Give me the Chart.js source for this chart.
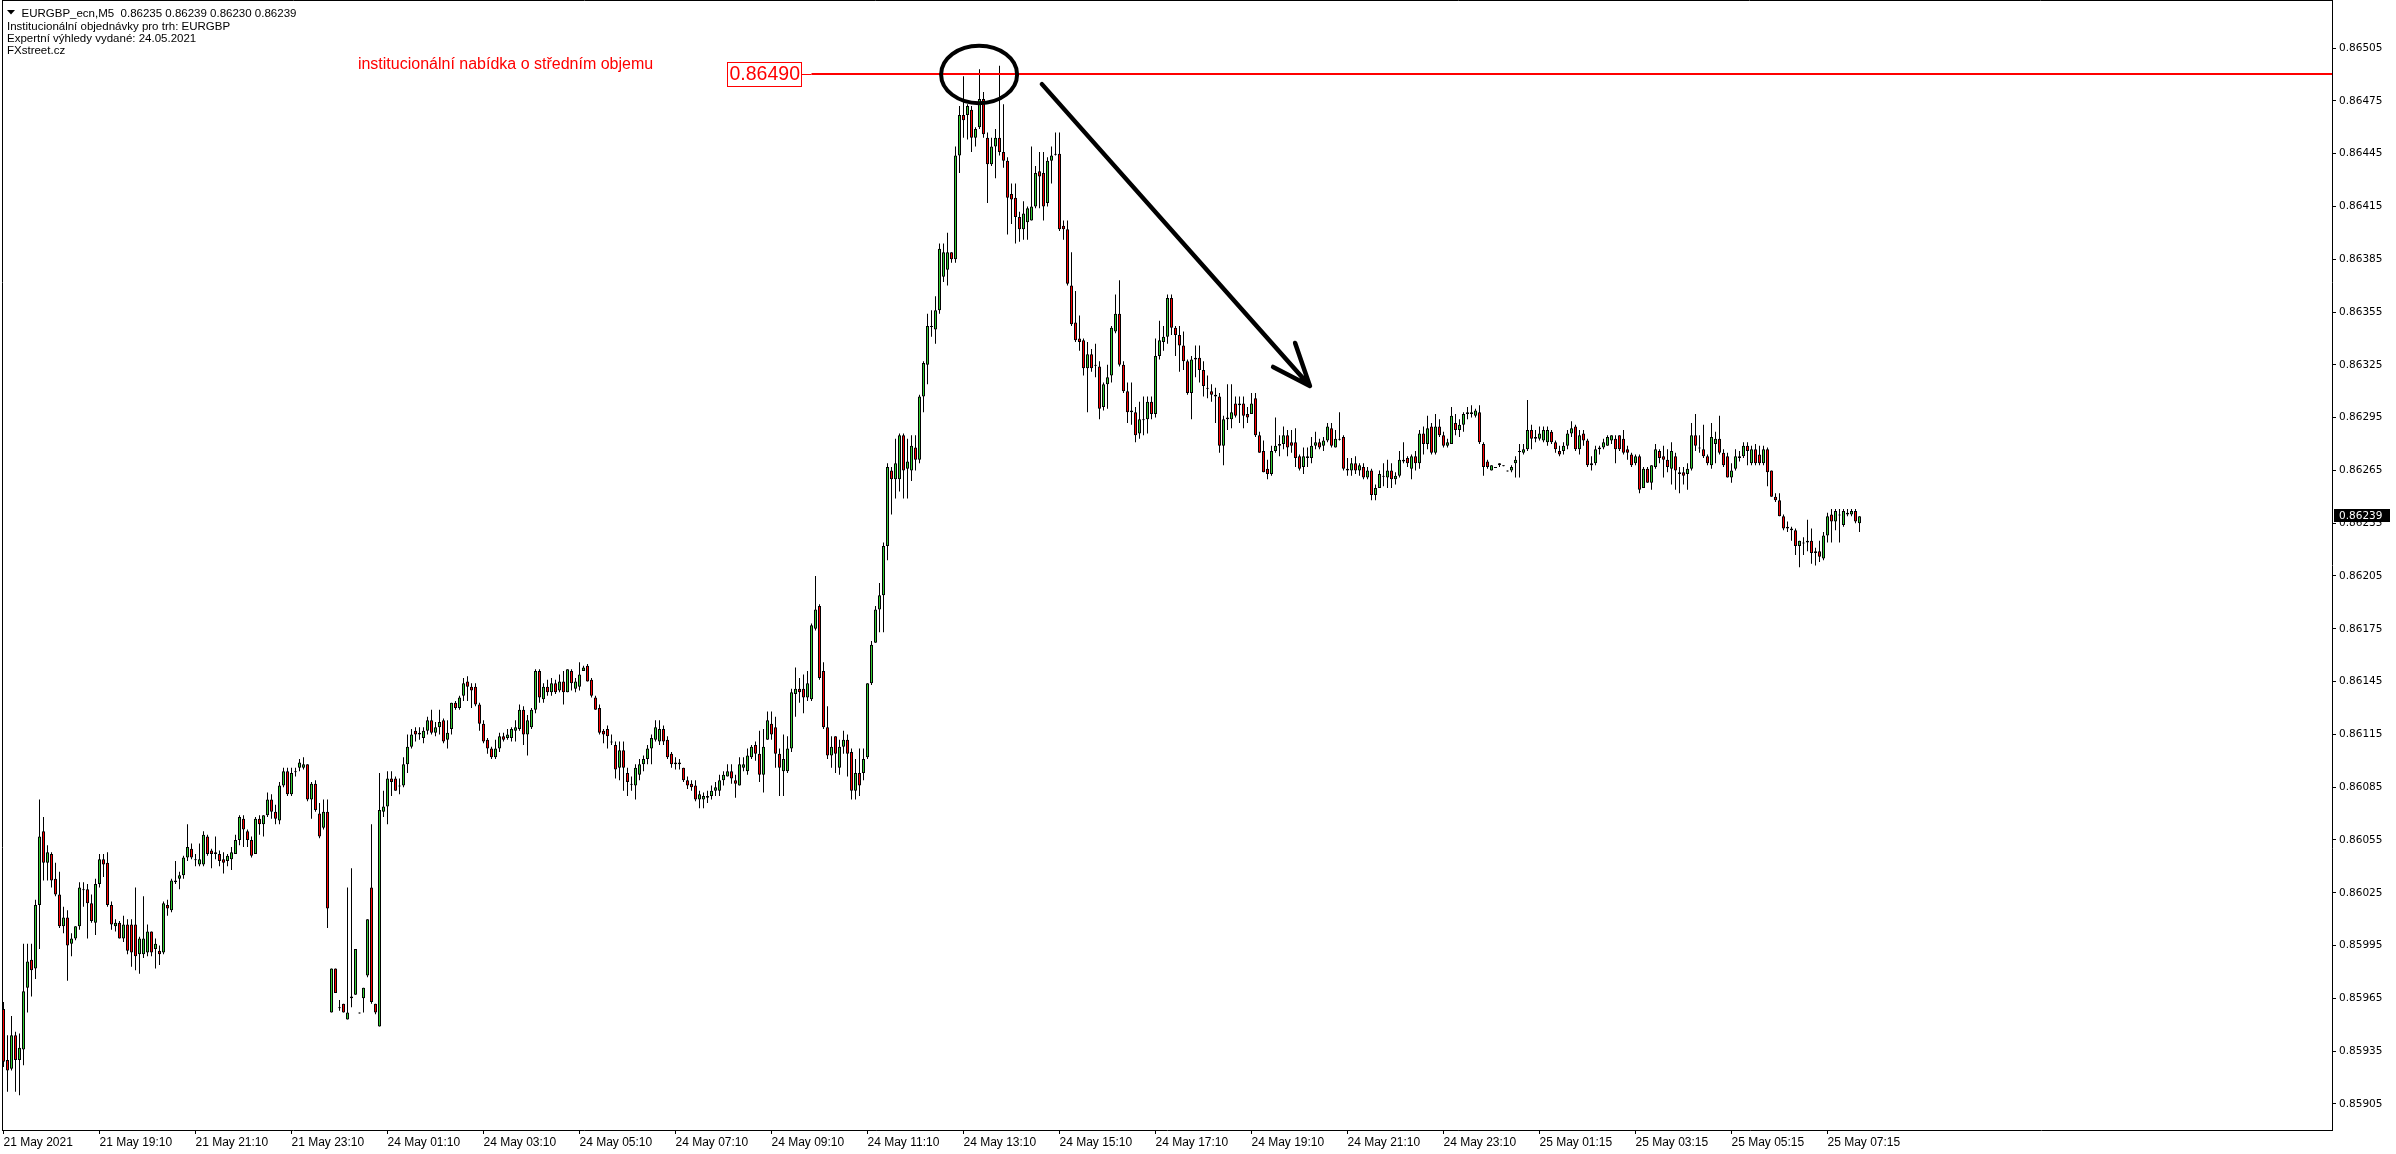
<!DOCTYPE html>
<html>
<head>
<meta charset="utf-8">
<title>EURGBP M5</title>
<script src="https://cdn.jsdelivr.net/npm/chart.js"></script>
<style>
  body { margin: 0; background: #fff; }
  canvas { display: block; }
</style>
</head>
<body>
<canvas id="chart" width="2396" height="1154"></canvas>
<script>
// ceny v bodech (0.00001) nad 0.86000, svíčky M5 od 21.05. 17:10
let base = 86000;

let opens = [
  -41,-70,-75,-56,-70,-64,-29,-13,-18,18,60,42,47,33,24,6,11,-4,-1,6,27,27,19,8,
  30,44,42,18,6,8,-1,7,7,7,-10,-10,-9,3,-7,-8,-9,18,15,31,33,35,45,50,
  44,41,41,57,49,48,47,44,43,44,47,55,67,60,55,47,67,64,69,78,71,66,86,94,
  81,94,96,96,98,78,87,70,62,71,-43,-18,-40,-38,-47,-34,-33,-43,-35,-22,28,-38,-51,71,
  74,90,90,86,86,98,108,117,116,113,117,123,116,119,123,112,118,133,130,137,145,142,142,132,
  121,112,107,102,107,114,113,113,117,118,129,115,119,129,151,135,142,139,144,140,145,139,151,141,
  142,151,154,146,136,130,117,118,111,109,96,106,93,87,86,92,98,101,107,112,111,118,112,104,
  99,99,96,89,87,86,78,78,79,80,83,83,89,91,94,89,86,96,94,102,109,104,92,112,
  121,119,104,94,94,107,138,141,141,136,135,175,188,151,119,103,114,96,108,112,105,83,93,93,
  102,144,167,186,194,222,265,260,260,285,266,265,278,271,307,325,347,345,356,375,379,389,385,444,
  467,467,470,454,460,476,454,439,449,454,446,441,422,420,409,402,406,407,415,435,434,417,441,445,
  445,404,402,370,349,340,339,323,331,325,324,301,314,319,344,354,325,310,299,298,286,294,294,304,
  297,330,338,341,363,346,342,336,327,309,328,329,322,312,310,308,307,279,295,294,303,303,303,297,
  297,306,285,276,266,263,276,279,280,285,281,281,273,267,272,272,279,281,279,282,289,278,283,284,
  266,265,269,265,267,261,265,251,255,262,261,265,260,262,270,272,266,273,269,286,280,290,275,290,
  285,279,280,292,288,291,297,298,296,298,280,270,265,267,269,268,265,265,269,276,275,277,288,283,
  283,282,281,287,281,276,276,279,286,290,277,286,282,268,269,278,278,279,282,283,285,283,277,274,
  269,273,255,266,258,267,276,273,271,266,273,264,264,263,266,285,278,277,273,268,280,283,275,273,
  261,266,272,273,279,269,277,274,269,277,265,250,248,239,232,232,231,222,224,224,225,218,219,215,
  228,240,236,240,234,241,240,242,235
];

let highs = [
  -37,-56,-45,-54,-55,-4,-4,-4,21,78,68,52,48,42,37,17,15,2,6,31,31,30,24,33,
  47,47,48,20,10,9,12,10,10,28,0,23,7,3,-1,-5,20,21,33,43,37,46,64,53,
  47,53,60,58,50,57,49,48,47,51,58,69,69,61,57,68,69,69,82,81,75,88,96,96,
  96,96,101,102,98,88,89,76,78,78,-18,-18,-36,-38,28,39,-7,-43,-29,10,64,-38,93,83,
  94,94,91,90,102,115,118,119,119,119,125,129,122,129,124,123,133,134,137,147,148,144,144,133,
  123,113,108,112,116,116,118,119,123,132,131,126,130,152,152,144,146,147,146,149,151,152,152,147,
  156,154,155,147,137,132,118,120,115,111,111,111,96,91,98,101,103,109,115,123,123,120,114,105,
  102,101,96,91,89,89,83,82,83,86,88,92,94,98,98,92,102,102,107,109,111,117,118,128,
  128,125,107,115,114,141,153,147,149,151,178,205,189,156,131,114,114,112,117,115,107,101,107,107,
  144,168,188,201,224,269,267,283,286,286,283,285,285,308,327,354,356,364,394,394,400,389,449,472,
  489,473,472,460,493,480,457,454,459,495,473,443,428,428,412,418,415,449,438,446,446,443,449,457,
  457,407,407,389,367,353,340,338,334,337,327,315,325,347,365,373,327,315,315,301,304,307,307,307,
  340,350,347,365,365,347,347,344,328,330,336,336,327,319,314,312,309,296,314,314,307,307,307,301,
  309,309,287,282,271,279,295,285,290,288,288,289,274,278,278,284,287,283,284,292,292,288,298,285,
  272,272,273,269,269,267,266,257,265,269,271,269,264,276,281,273,274,276,288,290,296,292,297,294,
  287,283,301,297,294,298,301,302,300,302,281,271,268,267,269,268,265,268,273,280,280,305,291,288,
  290,290,290,288,282,279,281,288,293,291,288,288,283,273,279,279,283,285,285,285,285,288,279,275,
  274,274,267,267,268,280,277,279,277,281,275,267,267,269,292,297,285,291,274,292,287,296,277,275,
  269,277,276,281,281,279,280,279,279,278,265,252,252,240,236,233,232,225,227,237,232,221,225,230,
  241,243,243,243,243,243,243,243,239
];

let lows = [
  -74,-88,-76,-88,-90,-73,-43,-34,-24,-7,32,32,28,23,5,2,-25,-11,-2,4,17,-1,8,1,
  28,34,17,4,3,-1,-3,-10,-17,-19,-21,-12,-11,-11,-18,-16,-10,12,14,30,27,33,43,44,
  40,40,40,46,39,44,40,36,40,38,47,52,51,51,45,47,58,57,68,67,64,64,85,80,
  80,91,94,95,77,67,71,56,61,5,-43,-32,-42,-43,-47,-40,-33,-43,-43,-23,-38,-44,-51,68,
  64,80,83,81,85,93,107,111,112,110,115,115,114,115,110,107,115,129,129,134,134,130,131,117,
  110,104,101,101,105,111,112,111,111,117,109,103,118,127,133,133,137,137,138,139,132,139,140,139,
  140,151,145,136,129,115,110,107,109,90,89,83,80,83,78,89,94,98,98,111,109,109,101,96,
  95,95,88,84,83,77,73,73,76,78,80,80,86,91,87,79,86,94,92,101,100,88,82,112,
  112,96,80,80,93,105,125,133,127,134,134,174,146,118,101,96,93,92,104,91,78,78,80,89,
  101,143,167,173,173,214,240,249,253,249,249,259,265,269,298,314,341,337,354,372,370,383,383,434,
  454,453,446,449,459,454,417,438,431,444,437,399,405,394,395,396,396,407,414,414,407,415,428,444,
  401,396,370,347,338,333,319,298,321,318,294,299,300,315,343,324,309,292,291,281,283,285,286,294,
  295,328,333,337,342,330,321,322,308,294,318,315,307,306,304,292,275,268,288,289,295,292,289,292,
  297,284,275,264,260,262,275,273,277,273,275,267,265,263,267,269,277,277,276,281,278,278,282,265,
  262,262,263,262,260,260,248,248,255,256,255,255,257,261,269,267,260,265,266,274,277,274,274,284,
  278,278,280,285,284,287,294,295,295,280,262,266,265,267,267,268,265,264,261,261,274,276,277,281,
  282,281,279,280,275,273,274,277,284,276,274,279,267,265,268,274,277,279,280,269,276,274,271,267,
  268,252,255,258,254,266,269,261,264,257,254,252,257,254,265,276,275,272,268,266,269,274,267,261,
  258,265,270,272,268,268,268,268,268,256,250,247,239,231,230,225,217,210,217,219,212,211,213,214,
  224,224,231,224,233,239,239,235,230
];

let closes = [
  -71,-76,-56,-70,-63,-31,-14,-19,18,57,42,48,32,24,6,11,-5,-1,6,28,27,19,9,30,
  44,41,18,7,8,-1,7,-8,-9,-11,-1,-1,3,-9,-4,-10,19,16,32,32,35,45,51,45,
  44,44,58,47,47,47,43,42,46,48,55,68,61,55,46,67,64,69,78,71,67,86,94,81,
  93,94,99,98,78,87,72,57,71,16,-18,-32,-40,-43,-43,-35,-7,-43,-29,10,-37,-43,72,74,
  90,88,83,86,98,108,115,115,115,117,123,116,119,122,111,116,133,130,136,144,142,140,132,121,
  111,107,102,107,114,112,115,118,119,129,115,123,129,151,136,142,139,144,139,145,139,152,144,145,
  149,153,145,137,129,116,115,114,111,95,106,96,88,87,96,98,101,107,113,119,118,111,102,98,
  98,98,89,86,85,78,81,80,80,83,85,89,92,94,90,87,98,98,103,108,104,92,108,123,
  115,104,96,101,107,139,141,139,136,144,177,186,147,119,103,108,104,108,112,104,83,93,86,101,
  144,166,186,194,222,267,260,269,285,265,270,279,271,307,326,347,347,356,391,389,389,385,444,467,
  464,472,454,459,476,456,439,449,454,446,441,420,419,409,402,411,414,415,434,432,415,441,444,445,
  402,402,371,348,339,338,323,331,323,325,300,314,318,346,354,325,310,298,298,285,294,294,304,297,
  330,339,341,363,346,342,336,327,309,328,329,322,313,312,308,307,279,294,294,298,296,302,296,295,
  303,285,275,264,263,276,279,280,285,278,279,272,266,273,273,279,281,278,282,290,279,283,283,266,
  265,269,265,268,261,265,251,255,263,262,265,260,262,271,271,269,273,269,286,280,289,275,290,285,
  279,281,296,288,291,297,298,297,299,281,267,267,268,267,268,268,265,267,271,276,277,288,283,284,
  286,288,288,281,277,274,279,286,289,277,285,282,268,269,277,277,281,284,285,277,277,275,275,268,
  273,254,266,258,268,277,272,271,267,276,265,263,262,266,285,279,278,273,269,284,283,275,268,261,
  265,273,273,279,276,277,269,269,277,264,250,248,239,232,233,231,222,225,224,225,218,219,216,228,
  239,236,242,240,242,240,242,236,239
];

// popisky casove osy (kazde 2 hodiny = 24 svicek)
let xTickIdx = [0,24,48,72,96,120,144,168,192,216,240,264,288,312,336,360,384,408,432,456];
let xLabels = [
  '21 May 2021','21 May 19:10','21 May 21:10','21 May 23:10','24 May 01:10','24 May 03:10',
  '24 May 05:10','24 May 07:10','24 May 09:10','24 May 11:10','24 May 13:10','24 May 15:10',
  '24 May 17:10','24 May 19:10','24 May 21:10','24 May 23:10','25 May 01:15','25 May 03:15',
  '25 May 05:15','25 May 07:15'
];
let yTicks = [505,475,445,415,385,355,325,295,265,235,205,175,145,115,85,55,25,-5,-35,-65,-95];

let levelPrice = 490;
let levelText = 'institucionální nabídka o středním objemu';
let symbolName = 'EURGBP_ecn,M5';
let infoLines = ['Institucionální objednávky pro trh: EURGBP', 'Expertní výhledy vydané: 24.05.2021', 'FXstreet.cz'];

let green = '#32cd32';
let red = '#ff0000';

function price_text(v) {
  return ((base + v) / 100000).toFixed(5);
}

let n = closes.length;
let last = n - 1;

let bodies = opens.map((o, i) => ({x: i, y: [o, closes[i]]}));
let bodyColors = opens.map((o, i) => closes[i] >= o ? green : red);
let wicks = lows.map((l, i) => ({x: i, y: [l, highs[i]]}));

// vlastni kresby: uroven, elipsa, sipka, texty
let kresby = {
  id: 'kresby',
  afterDatasetsDraw(chart) {
    let ctx = chart.ctx;
    let xs = chart.scales.x;
    let ys = chart.scales.y;
    let area = chart.chartArea;
    ctx.save();
    ctx.beginPath();
    ctx.rect(area.left, area.top, area.right - area.left, area.bottom - area.top);
    ctx.clip();

    // vodorovna cara
    let ly = Math.round(ys.getPixelForValue(levelPrice));
    let lx = xs.getPixelForValue(202);
    ctx.strokeStyle = red;
    ctx.lineWidth = 2;
    ctx.beginPath();
    ctx.moveTo(lx, ly);
    ctx.lineTo(area.right, ly);
    ctx.stroke();

    ctx.font = '19.5px "Liberation Sans"';
    let tag = price_text(levelPrice);
    let w = Math.round(ctx.measureText(tag).width) + 4;
    let bx = Math.round(lx - 10.5 - w);
    ctx.lineWidth = 1;
    ctx.strokeRect(bx + 0.5, ly - 12 + 0.5, w, 24);
    ctx.beginPath();
    ctx.moveTo(bx + w, ly + 0.5);
    ctx.lineTo(lx, ly + 0.5);
    ctx.stroke();
    ctx.fillStyle = red;
    ctx.textAlign = 'left';
    ctx.textBaseline = 'middle';
    ctx.fillText(tag, bx + 2.5, ly + 1);

    ctx.font = '16px "Liberation Sans"';
    ctx.fillText(levelText, xs.getPixelForValue(88.6), ys.getPixelForValue(495.5));

    // elipsa kolem vrcholu
    let cx = xs.getPixelForValue(243.9);
    let cy = ys.getPixelForValue(levelPrice);
    let rx = xs.getPixelForValue(243.9 + 9.5) - cx;
    let ry = ys.getPixelForValue(levelPrice - 16.3) - cy;
    ctx.strokeStyle = '#000';
    ctx.lineWidth = 4;
    ctx.beginPath();
    ctx.ellipse(cx, cy, rx, ry, 0, 0, Math.PI * 2);
    ctx.stroke();

    // sipka dolu
    let p = (i, v) => [xs.getPixelForValue(i), ys.getPixelForValue(v)];
    let a = p(259.6, 484.5);
    let b = p(326.6, 313);
    let w1 = p(317.4, 323.8);
    let w2 = p(322.9, 337.4);
    ctx.lineWidth = 4.5;
    ctx.lineCap = 'round';
    ctx.lineJoin = 'round';
    ctx.beginPath();
    ctx.moveTo(a[0], a[1]);
    ctx.lineTo(b[0], b[1]);
    ctx.moveTo(w1[0], w1[1]);
    ctx.lineTo(b[0], b[1]);
    ctx.lineTo(w2[0], w2[1]);
    ctx.stroke();
    ctx.restore();
  },
  afterDraw(chart) {
    let ctx = chart.ctx;
    let ys = chart.scales.y;
    let area = chart.chartArea;
    ctx.save();

    // ramecek vlevo a nahore
    ctx.strokeStyle = '#000';
    ctx.lineWidth = 1;
    ctx.beginPath();
    ctx.moveTo(2.5, 0);
    ctx.lineTo(2.5, area.bottom);
    ctx.moveTo(2, 0.5);
    ctx.lineTo(area.right, 0.5);
    ctx.stroke();

    // hlavicka
    ctx.fillStyle = '#000';
    ctx.beginPath();
    ctx.moveTo(7, 10);
    ctx.lineTo(15, 10);
    ctx.lineTo(11, 14.5);
    ctx.closePath();
    ctx.fill();
    ctx.font = '11.5px "Liberation Sans"';
    ctx.textAlign = 'left';
    ctx.textBaseline = 'alphabetic';
    let head = symbolName + '  ' + [opens[last], highs[last], lows[last], closes[last]].map(price_text).join(' ');
    ctx.fillText(head, 21.5, 17);
    infoLines.forEach((t, k) => ctx.fillText(t, 7, 29.5 + k * 12.3));

    // aktualni cena
    let py = Math.round(ys.getPixelForValue(closes[last]));
    ctx.fillStyle = '#000';
    ctx.fillRect(area.right + 2, py - 7, 56, 13);
    ctx.fillStyle = '#fff';
    ctx.font = '10.5px "DejaVu Sans"';
    ctx.textBaseline = 'middle';
    ctx.fillText(price_text(closes[last]), area.right + 7, py);
    ctx.restore();
  }
};

function draw_chart() {
  new Chart(document.getElementById('chart'), {
    type: 'bar',
    data: {
      datasets: [{
        label: 'body',
        data: bodies,
        backgroundColor: bodyColors,
        borderColor: '#000',
        borderWidth: 1,
        borderSkipped: false,
        barThickness: 3,
        minBarLength: 1,
        inflateAmount: 0,
        grouped: false,
        order: 0
      }, {
        label: 'wick',
        data: wicks,
        backgroundColor: '#000',
        borderWidth: 0,
        barThickness: 1,
        minBarLength: 1,
        inflateAmount: 0,
        grouped: false,
        order: 1
      }]
    },
    options: {
      responsive: false,
      animation: false,
      devicePixelRatio: 1,
      layout: { padding: { left: 2, top: 0, right: 0, bottom: 0 } },
      plugins: {
        legend: { display: false },
        tooltip: { enabled: false }
      },
      scales: {
        x: {
          type: 'linear',
          position: 'bottom',
          min: -0.375,
          max: 582.125,
          offset: false,
          grid: { offset: false, drawOnChartArea: false, drawTicks: true, tickLength: 4, color: '#000' },
          border: { display: true, color: '#000', width: 1 },
          afterBuildTicks: function(scale) {
            scale.ticks = xTickIdx.map(v => ({value: v}));
          },
          afterFit: function(scale) {
            scale.height = 24;
            scale.paddingLeft = 0;
            scale.paddingRight = 0;
          },
          ticks: {
            autoSkip: false,
            maxRotation: 0,
            minRotation: 0,
            align: 'start',
            padding: 1,
            color: '#000',
            font: { family: 'Liberation Sans', size: 12 },
            callback: function(value, index) {
              return xLabels[index];
            }
          }
        },
        y: {
          type: 'linear',
          position: 'right',
          min: -109.8,
          max: 532.3,
          grid: { drawOnChartArea: false, drawTicks: true, tickLength: 4, color: '#000' },
          border: { display: true, color: '#000', width: 1 },
          afterBuildTicks: function(scale) {
            scale.ticks = yTicks.map(v => ({value: v}));
          },
          afterFit: function(scale) {
            scale.width = 64;
            scale.paddingTop = 0;
            scale.paddingBottom = 0;
          },
          ticks: {
            autoSkip: false,
            padding: 3,
            color: '#000',
            font: { family: 'DejaVu Sans', size: 10.5 },
            callback: function(value) {
              return price_text(value);
            }
          }
        }
      }
    },
    plugins: [kresby]
  });
}

draw_chart();
</script>
</body>
</html>
